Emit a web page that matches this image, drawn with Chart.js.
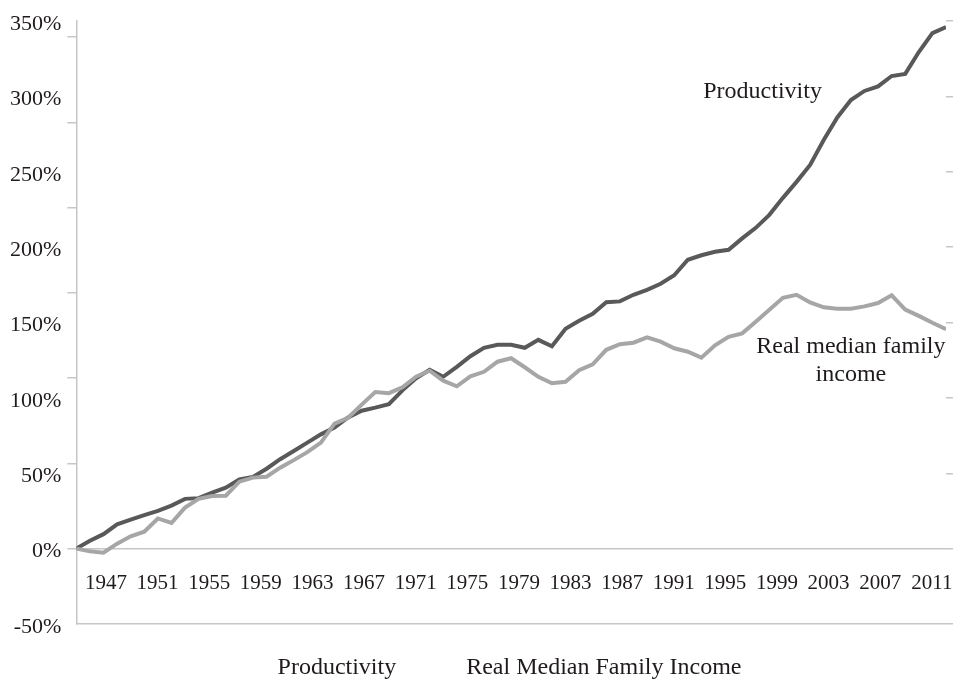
<!DOCTYPE html>
<html>
<head>
<meta charset="utf-8">
<title>Productivity and real median family income</title>
<script src="https://cdn.jsdelivr.net/npm/chart.js@4.4.1/dist/chart.umd.min.js"></script>
<style>
  html, body { margin: 0; padding: 0; background: #fff; }
  .chart-box { position: relative; width: 954px; height: 682px; }
</style>
</head>
<body>
<div class="chart-box"><canvas class="jsGrowthChart"></canvas></div>
<script>
"use strict";
var years = [1947, 1948, 1949, 1950, 1951, 1952, 1953, 1954, 1955, 1956, 1957, 1958, 1959,
  1960, 1961, 1962, 1963, 1964, 1965, 1966, 1967, 1968, 1969, 1970, 1971, 1972, 1973,
  1974, 1975, 1976, 1977, 1978, 1979, 1980, 1981, 1982, 1983, 1984, 1985, 1986, 1987,
  1988, 1989, 1990, 1991, 1992, 1993, 1994, 1995, 1996, 1997, 1998, 1999, 2000, 2001,
  2002, 2003, 2004, 2005, 2006, 2007, 2008, 2009, 2010, 2011];

// cumulative growth since 1947, %
var productivity = [0, 5.2, 9.6, 16.1, 19.2, 22.2, 25.1, 28.5, 33, 33.5, 37.1, 40.4, 45.9,
  47.6, 53, 59.3, 64.8, 70.3, 75.8, 80.4, 87, 91.5, 93.5, 95.8, 105, 113, 118.7,
  114, 120.6, 127.6, 133.2, 135.2, 135.2, 133.2, 138.5, 134.2, 145.8, 151.1, 155.8, 163.4, 164,
  168.4, 171.7, 175.7, 181.3, 191.6, 194.6, 196.9, 198.2, 205.8, 212.8, 221.4, 232.7, 243.3, 254.5,
  271.1, 286, 297.6, 303.6, 306.6, 313.5, 314.9, 329.4, 342, 346];

var medianIncome = [0, -1.8, -2.7, 3.3, 8.2, 11.2, 20, 17, 27.2, 33, 34.9, 35.1, 44.4,
  47.1, 47.7, 53.7, 58.7, 64, 70.3, 82.9, 86.8, 95.5, 103.9, 103.1, 107, 114, 118,
  111.4, 107.7, 114.3, 117.3, 124, 126.3, 120.3, 114, 109.7, 110.7, 118.3, 122.3, 131.9, 135.6,
  136.6, 140.2, 137.3, 132.9, 130.6, 126.7, 134.9, 140.5, 142.8, 150.5, 158.4, 166.4, 168.4, 163.3,
  160.1, 159.2, 159.2, 160.7, 162.9, 168, 158.6, 154.4, 149.8, 145.6];

var yearTicks = [1947, 1951, 1955, 1959, 1963, 1967, 1971, 1975, 1979, 1983, 1987, 1991,
  1995, 1999, 2003, 2007, 2011];

function toPoints(values) {
  return values.map(function (v, i) { return {x: years[i], y: v}; });
}

var lineNotes = {
  id: "lineNotes",
  afterDatasetsDraw: function (chart, args, opts) {
    var ctx = chart.ctx, sx = chart.scales.x, sy = chart.scales.y;
    ctx.save();
    ctx.font = opts.font;
    ctx.fillStyle = opts.color;
    ctx.textAlign = "center";
    ctx.textBaseline = "alphabetic";
    opts.items.forEach(function (n) {
      ctx.fillText(n.text, sx.getPixelForValue(n.year), sy.getPixelForValue(n.value));
    });
    ctx.restore();
  }
};

function buildGrowthChart() {
  var t = document.querySelector(".jsGrowthChart"),
    serif = "'Liberation Serif', 'Times New Roman', serif",
    ink = "#1f1b1c",
    axisGrey = "#c6c6c6";

  new Chart(t, {
    type: "line",
    data: {
      datasets: [
        {label: "Real Median Family Income", data: toPoints(medianIncome), borderColor: "#a6a6a6",
          backgroundColor: "#a6a6a6", borderWidth: 4, pointRadius: 0, tension: 0},
        {label: "Productivity", data: toPoints(productivity), borderColor: "#595959",
          backgroundColor: "#595959", borderWidth: 4, pointRadius: 0, tension: 0}
      ]
    },
    options: {
      responsive: true,
      maintainAspectRatio: false,
      animation: false,
      // negative right padding widens the legend box so it centres like the original
      layout: {padding: {left: 4, top: 21, right: -23, bottom: -8}},
      scales: {
        x: {type: "linear", min: 1947, max: 2011, display: false},
        xt: {
          axis: "x",
          type: "linear",
          position: {y: 0},
          min: 1944.7,
          max: 2012.1,
          afterBuildTicks: function (s) {
            s.ticks = yearTicks.map(function (v) { return {value: v}; });
          },
          afterFit: function (s) {
            s.paddingLeft = 0;
            s.paddingRight = 0;
          },
          ticks: {
            autoSkip: false, maxRotation: 0, padding: 22, color: ink,
            font: {family: serif, size: 21},
            callback: function (v) { return String(v); }
          },
          grid: {display: false, drawTicks: false},
          border: {display: true, color: axisGrey, width: 1.5}
        },
        y: {
          min: -50, max: 350, weight: 10,
          ticks: {
            stepSize: 50, padding: 6, labelOffset: 3, color: ink, font: {family: serif, size: 22},
            callback: function (v) { return v + "%"; }
          },
          grid: {
            drawTicks: false, lineWidth: 1.5,
            color: function (c) { return c.tick && c.tick.value === -50 ? axisGrey : "rgba(0,0,0,0)"; }
          },
          border: {display: false}
        },
        yL2: {
          position: "left", weight: 0,
          min: -0.884, max: 6.188,
          ticks: {display: false, stepSize: 1, includeBounds: false},
          grid: {drawOnChartArea: false, tickLength: 9, color: axisGrey, lineWidth: 1.5},
          border: {display: true, color: axisGrey, width: 1.5}
        },
        yR: {
          position: "right",
          min: -50, max: 350,
          afterFit: function (s) {
            s.width += 24;
          },
          ticks: {display: false, stepSize: 50},
          grid: {drawOnChartArea: false, tickLength: 7, color: axisGrey, lineWidth: 1.5},
          border: {display: false}
        }
      },
      plugins: {
        legend: {
          display: true,
          position: "bottom",
          reverse: true,
          labels: {
            boxWidth: 26, padding: 32, color: ink, font: {family: serif, size: 24},
            generateLabels: function (chart) {
              return Chart.defaults.plugins.legend.labels.generateLabels(chart).map(function (item) {
                item.fillStyle = "rgba(0,0,0,0)";
                item.strokeStyle = "rgba(0,0,0,0)";
                item.lineWidth = 0;
                return item;
              });
            }
          }
        },
        tooltip: {enabled: false},
        lineNotes: {
          font: "24px " + serif,
          color: ink,
          items: [
            {text: "Productivity", year: 1997.5, value: 299},
            {text: "Real median family", year: 2004, value: 129.7},
            {text: "income", year: 2004, value: 110.9}
          ]
        }
      }
    },
    plugins: [lineNotes]
  });
}

buildGrowthChart();
</script>
</body>
</html>
